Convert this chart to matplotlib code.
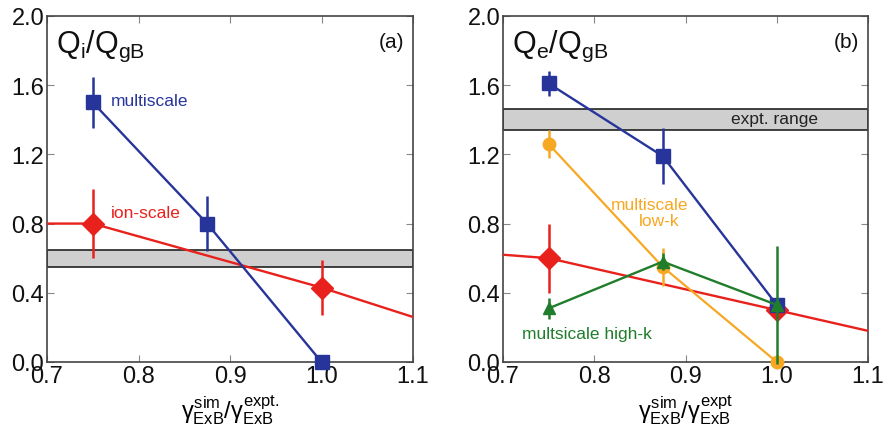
import numpy as np
import matplotlib.pyplot as plt

plt.rcParams['font.family'] = ['Liberation Sans', 'DejaVu Sans']
plt.rcParams['mathtext.fontset'] = 'custom'
plt.rcParams['mathtext.rm'] = 'Liberation Sans'
plt.rcParams['mathtext.it'] = 'Liberation Sans'

BLUE = '#27359a'
RED = '#e8211d'
ORANGE = '#f7a823'
GREEN = '#1f7d2b'

# (a) ion heat flux
xa_multi = [0.75, 0.875, 1.0]
ya_multi = [1.50, 0.80, 0.0]
ea_multi = [0.15, 0.16, 0.0]
xa_ion = [0.75, 1.0]
ya_ion = [0.80, 0.43]
ea_ion = [0.20, 0.16]
xa_ion_line = [0.70, 0.75, 1.0, 1.1]
ya_ion_line = [0.80, 0.80, 0.43, 0.26]
band_a = (0.55, 0.65)

# (b) electron heat flux
xb = [0.75, 0.875, 1.0]
yb_multi = [1.61, 1.19, 0.33]
eb_multi = [0.07, 0.16, 0.0]
yb_low = [1.26, 0.55, 0.0]
eb_low = [0.08, 0.11, 0.0]
yb_high = [0.31, 0.58, 0.33]
eb_high = [0.06, 0.05, 0.34]
xb_ion = [0.75, 1.0]
yb_ion = [0.60, 0.30]
eb_ion = [0.20, 0.0]
xb_ion_line = [0.70, 0.75, 1.0, 1.1]
yb_ion_line = [0.62, 0.60, 0.30, 0.18]
band_b = (1.34, 1.46)

fig = plt.figure(figsize=(8.89, 4.31), dpi=100)
axa = fig.add_axes([0.0529, 0.1578, 0.4117, 0.8028])
axb = fig.add_axes([0.5658, 0.1578, 0.4106, 0.8028])


def style(ax, band, panel, title, xlab):
    ax.axhspan(band[0], band[1], facecolor='#cfcfcf', edgecolor='#222222', lw=1.2, zorder=1)
    ax.set_xlim(0.7, 1.1)
    ax.set_ylim(0.0, 2.0)
    ax.set_xticks([0.7, 0.8, 0.9, 1.0, 1.1])
    ax.set_yticks([0.0, 0.4, 0.8, 1.2, 1.6, 2.0])
    ax.xaxis.set_major_formatter(plt.FormatStrFormatter('%.1f'))
    ax.yaxis.set_major_formatter(plt.FormatStrFormatter('%.1f'))
    ax.tick_params(direction='in', length=5, width=0.8, labelsize=17, pad=2,
                   top=True, right=True, colors='#888888', labelcolor='#111111')
    for s in ax.spines.values():
        s.set_color('#444444')
        s.set_linewidth(1.2)
    ax.text(0.025, 0.965, title, transform=ax.transAxes, fontsize=22,
            ha='left', va='top', color='#111111')
    ax.text(0.975, 0.955, panel, transform=ax.transAxes, fontsize=15,
            ha='right', va='top', color='#111111')
    ax.set_xlabel(xlab, fontsize=17, labelpad=4)


style(axa, band_a, '(a)', r'Q$_\mathregular{i}$/Q$_\mathregular{gB}$',
      r'$\gamma^{\mathregular{sim}}_{\mathregular{ExB}}/\gamma^{\mathregular{expt.}}_{\mathregular{ExB}}$')
style(axb, band_b, '(b)', r'Q$_\mathregular{e}$/Q$_\mathregular{gB}$',
      r'$\gamma^{\mathregular{sim}}_{\mathregular{ExB}}/\gamma^{\mathregular{expt}}_{\mathregular{ExB}}$')

# panel (a)
axa.plot(xa_ion_line, ya_ion_line, color=RED, lw=1.7, zorder=3)
axa.errorbar(xa_ion, ya_ion, yerr=ea_ion, fmt='D', color=RED, ms=11, elinewidth=1.8,
             capsize=0, zorder=4, clip_on=False)
axa.errorbar(xa_multi, ya_multi, yerr=ea_multi, fmt='s-', color=BLUE, ms=10, lw=1.7,
             elinewidth=1.8, capsize=0, zorder=5, clip_on=False)
axa.text(0.77, 1.51, 'multiscale', color=BLUE, fontsize=12.5, va='center')
axa.text(0.77, 0.865, 'ion-scale', color=RED, fontsize=12.5, va='center')

# panel (b)
axb.plot(xb_ion_line, yb_ion_line, color=RED, lw=1.7, zorder=3)
axb.errorbar(xb_ion, yb_ion, yerr=eb_ion, fmt='D', color=RED, ms=11, elinewidth=1.8,
             capsize=0, zorder=4, clip_on=False)
axb.errorbar(xb, yb_low, yerr=eb_low, fmt='o-', color=ORANGE, ms=9, lw=1.6,
             elinewidth=1.8, capsize=0, zorder=4, clip_on=False)
axb.errorbar(xb, yb_multi, yerr=eb_multi, fmt='s-', color=BLUE, ms=10, lw=1.7,
             elinewidth=1.8, capsize=0, zorder=5, clip_on=False)
axb.errorbar(xb, yb_high, yerr=eb_high, fmt='^-', color=GREEN, ms=9, lw=1.7,
             elinewidth=1.8, capsize=0, zorder=6, clip_on=False)
axb.text(0.997, 1.405, 'expt. range', color='#222222', fontsize=12.5, ha='center', va='center')
axb.text(0.861, 0.913, 'multiscale', color=ORANGE, fontsize=12.5, ha='center', va='center')
axb.text(0.871, 0.815, 'low-k', color=ORANGE, fontsize=12.5, ha='center', va='center')
axb.text(0.721, 0.162, 'multsicale high-k', color=GREEN, fontsize=12.5, va='center')

fig.savefig('out.png', dpi=100)
